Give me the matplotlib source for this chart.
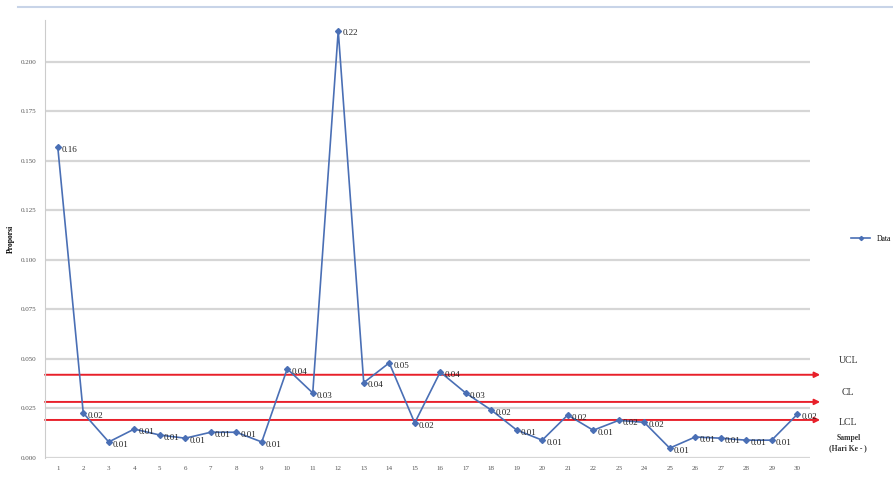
import numpy as np
import matplotlib.pyplot as plt

plt.rcParams['font.family'] = ['Liberation Serif', 'DejaVu Serif']

# datos
hari = np.arange(1, 31)
proporsi = [0.157, 0.0227, 0.0081, 0.0146, 0.0116, 0.0100, 0.0130, 0.0130, 0.0081, 0.0450,
            0.0328, 0.2156, 0.0380, 0.0480, 0.0177, 0.0434, 0.0328, 0.0242, 0.0141, 0.0090,
            0.0217, 0.0140, 0.0190, 0.0180, 0.0050, 0.0106, 0.0100, 0.0090, 0.0090, 0.0220]
ucl = 0.0420
cl = 0.0283
lcl = 0.0192
yticks = [0.000, 0.025, 0.050, 0.075, 0.100, 0.125, 0.150, 0.175, 0.200]

fig = plt.figure(figsize=(8.93, 4.84), dpi=100)
ax = fig.add_axes([0.0504, 0.0537, 0.8566, 0.905])

ax.plot(hari, proporsi, color="#4a6fb5", linewidth=1.2, marker="D", markersize=3,
        label="Data", zorder=3)
for x, y in zip(hari, proporsi):
    ax.annotate("%.2f" % y, (x, y), xytext=(3, -2), textcoords="offset points",
                fontsize=6.5, va="center", ha="left", color="#222222")

# lineas de control
for lim in [ucl, cl, lcl]:
    ax.annotate("", xy=(30.9, lim), xytext=(0.5, lim),
                arrowprops=dict(arrowstyle="-|>", color="#e8202a", lw=1.4,
                                mutation_scale=8, shrinkA=0, shrinkB=0),
                annotation_clip=False, zorder=2)

ax.set_xlim(0.5, 30.5)
ax.set_ylim(0, 0.221)
ax.set_xticks(hari)
ax.set_xticklabels([str(i) for i in hari], fontsize=5, color="#555555")
ax.set_yticks(yticks)
ax.set_yticklabels(["%.3f" % v for v in yticks], fontsize=5, color="#555555")
ax.tick_params(length=0, pad=6)
ax.grid(axis="y", color="#d6d6d6", linewidth=1.6)
ax.set_axisbelow(True)
for s in ["top", "right", "bottom"]:
    ax.spines[s].set_visible(False)
ax.spines["left"].set_color("#cccccc")
ax.set_ylabel("Proporsi", fontsize=5.5, fontweight="bold", labelpad=4)

fig.text(0.95, 0.255, "UCL", fontsize=7, ha="center", va="center", color="#333333")
fig.text(0.95, 0.19, "CL", fontsize=7, ha="center", va="center", color="#333333")
fig.text(0.95, 0.128, "LCL", fontsize=7, ha="center", va="center", color="#333333")
fig.text(0.95, 0.085, "Sampel\n(Hari Ke - )", fontsize=5.5, fontweight="bold",
         ha="center", va="center", color="#333333", linespacing=1.3)

ax.legend(loc="center left", bbox_to_anchor=(1.045, 0.5), frameon=False,
          fontsize=5.5, handlelength=2.5, markerscale=0.7)

# borde superior
fig.add_artist(plt.Line2D([0.02, 1.0], [0.985, 0.985], color="#c8d4e8", linewidth=1.5))

plt.savefig("out.png", dpi=100)
